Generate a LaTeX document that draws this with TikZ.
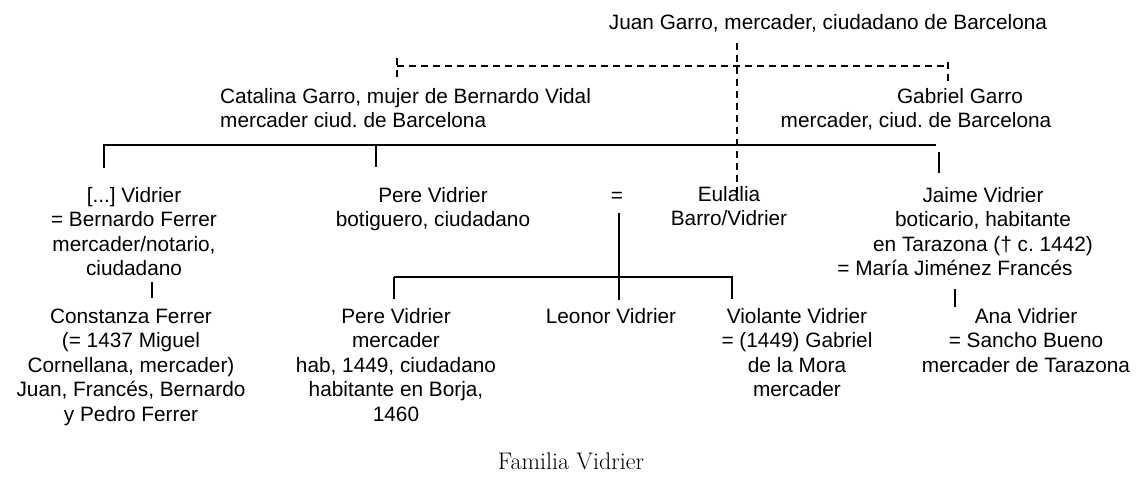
\documentclass[tikz,border=0pt]{standalone}
\usepackage{fontspec}
\newfontfamily\arf{Liberation Sans}
\frenchspacing
\begin{document}
\begin{tikzpicture}[x=1pt,y=-1pt,
  txt/.style={font=\arf\frenchspacing\fontsize{20.8}{24.5}\selectfont, inner sep=0pt, align=center, anchor=base},
  solidln/.style={line width=1.6pt},
  dashln/.style={line width=1.3pt, dash pattern=on 7pt off 5pt}]
\fill[white] (0,0) rectangle (1144,483);
\useasboundingbox (0,0) rectangle (1144,483);

% texts (anchor = baseline of the last line)
\node[txt] (juan) at (828,29) {Juan Garro, mercader, ciudadano de Barcelona};
\node[txt, anchor=base west, align=left] (catalina) at (220,127.5) {Catalina Garro, mujer de Bernardo Vidal\\mercader ciud. de Barcelona};
\node[txt] (gabriel) at (960,103) {Gabriel Garro};
\node[txt] (gabriel2) at (916,127.5) {mercader, ciud. de Barcelona};
\node[txt] (anon) at (134,275.5) {[...] Vidrier\\= Bernardo Ferrer\\mercader/notario,\\ciudadano};
\node[txt] (pere) at (433,226.5) {Pere Vidrier\\botiguero, ciudadano};
\node[txt] (eq) at (617,202) {=};
\node[txt] (eulalia) at (729,225.5) {Eulalia\\Barro/Vidrier};
\node[txt] (jaime) at (983,251) {Jaime Vidrier\\boticario, habitante\\en Tarazona († c. 1442)};
\node[txt] (maria) at (955,275.5) {= María Jiménez Francés};
\node[txt] (constanza) at (131,421) {Constanza Ferrer\\(= 1437 Miguel\\Cornellana, mercader)\\Juan, Francés, Bernardo\\y Pedro Ferrer};
\node[txt] (perej) at (396,421) {Pere Vidrier\\mercader\\hab, 1449, ciudadano\\habitante en Borja,\\1460};
\node[txt] (leonor) at (611,323) {Leonor Vidrier};
\node[txt] (violante) at (797,396.5) {Violante Vidrier\\= (1449) Gabriel\\de la Mora\\mercader};
\node[txt] (ana) at (1026,372) {Ana Vidrier\\= Sancho Bueno\\mercader de Tarazona};
\node[font=\fontsize{24}{28}\selectfont, anchor=base, inner sep=0pt] (caption) at (571,469) {Familia Vidrier};

% connector points
\coordinate (jt) at (737,43);   \coordinate (jb) at (737,197);
\coordinate (dl) at (397,66);   \coordinate (dr) at (948,66);
\coordinate (dlt) at (397,58);  \coordinate (dlb) at (397,82);
\coordinate (drt) at (948,62);  \coordinate (drb) at (948,83);
\coordinate (bl) at (103,145);  \coordinate (br) at (936,145);
\coordinate (v1t) at (104,145); \coordinate (v1b) at (104,168);
\coordinate (v2t) at (376,145); \coordinate (v2b) at (376,167);
\coordinate (v3t) at (939,152); \coordinate (v3b) at (939,173);
\coordinate (mt) at (619,213);  \coordinate (mb) at (619,300);
\coordinate (cl) at (394,277);  \coordinate (cr) at (733,277);
\coordinate (c1b) at (394,299); \coordinate (c3t) at (732,277); \coordinate (c3b) at (732,299);
\coordinate (ft) at (152,282);  \coordinate (fb) at (152,298);
\coordinate (at) at (955,289);  \coordinate (ab) at (955,307);

% dashed lines
\draw[dashln] (jt) -- (jb);
\draw[dashln] (dl) -- (dr);
\draw[dashln] (dlt) -- (dlb);
\draw[dashln] (drt) -- (drb);

% solid lines
\draw[solidln] (bl) -- (br);
\draw[solidln] (v1t) -- (v1b);
\draw[solidln] (v2t) -- (v2b);
\draw[solidln] (v3t) -- (v3b);
\draw[solidln] (mt) -- (mb);
\draw[solidln] (cl) -- (cr);
\draw[solidln] (cl) -- (c1b);
\draw[solidln] (c3t) -- (c3b);
\draw[solidln] (ft) -- (fb);
\draw[solidln] (at) -- (ab);
\end{tikzpicture}
\end{document}
